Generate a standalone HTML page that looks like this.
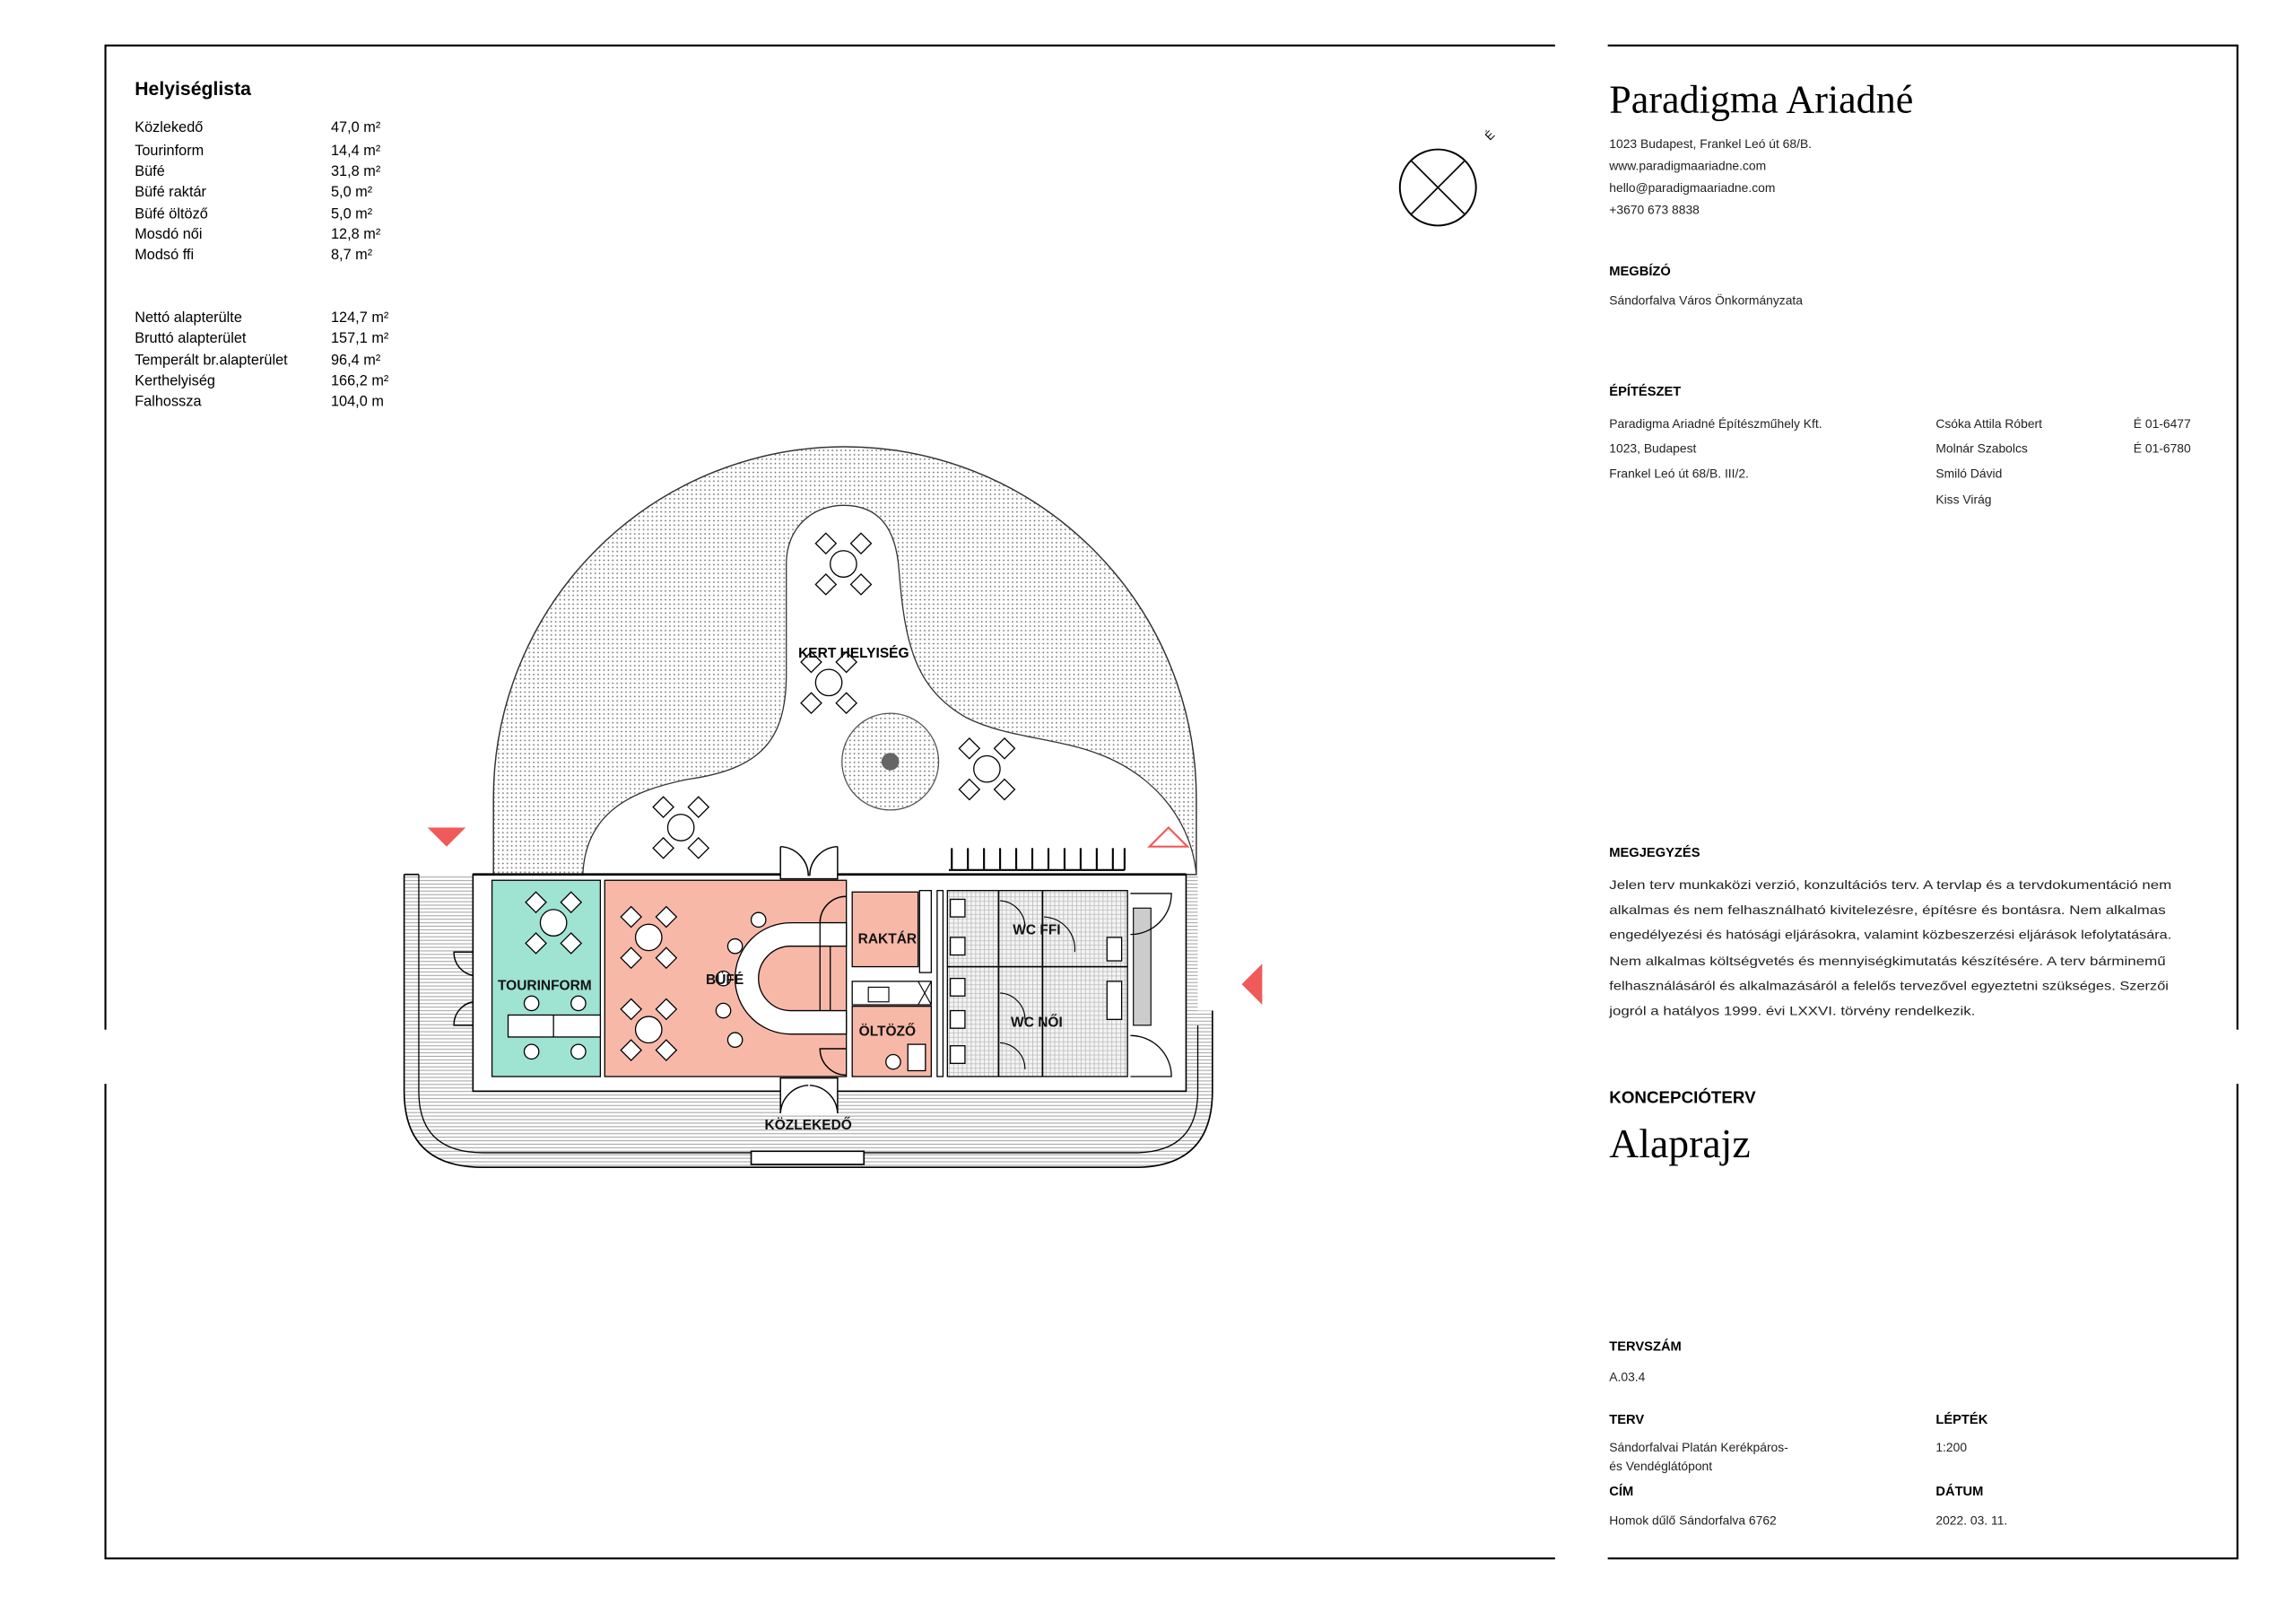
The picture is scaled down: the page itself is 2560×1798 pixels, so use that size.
<!DOCTYPE html>
<html><head><meta charset="utf-8"><style>html,body{margin:0;padding:0;background:#fff}svg{display:block}</style></head>
<body>
<svg width="2560" height="1798" viewBox="0 0 1568 1101.25" xmlns="http://www.w3.org/2000/svg" font-family="'Liberation Sans Narrow','Liberation Sans',sans-serif">
<defs>
<pattern id="dots" width="3" height="3" patternUnits="userSpaceOnUse"><circle cx="1.5" cy="1.5" r="0.55" fill="#666"/></pattern>
<pattern id="hatch" width="3" height="2.4" patternUnits="userSpaceOnUse"><line x1="0" y1="1.2" x2="3" y2="1.2" stroke="#aaa" stroke-width="0.7"/></pattern>
<pattern id="grid" width="3" height="3" patternUnits="userSpaceOnUse"><rect width="3" height="3" fill="#f4f4f4"/><path d="M0 0.3H3M0.3 0V3" stroke="#bbb" stroke-width="0.5"/></pattern>
<g id="tbl"><circle r="9" fill="#fff" stroke="#000" stroke-width="0.8"/>
<g fill="#fff" stroke="#000" stroke-width="0.8"><polygon points="-12,-21 -5,-14 -12,-7 -19,-14"/><polygon points="12,-21 19,-14 12,-7 5,-14"/><polygon points="-12,7 -5,14 -12,21 -19,14"/><polygon points="12,7 19,14 12,21 5,14"/></g></g>
</defs>
<g stroke="#000" stroke-width="1.3" fill="none">
<path d="M72,703 V31 H1062"/><path d="M72,740 V1064 H1062"/>
<path d="M1098,31 H1528 V703"/><path d="M1528,740 V1064 H1098"/>
</g>
<text x="92" y="65" font-size="13" font-weight="bold" font-family="'Liberation Sans',sans-serif">Helyiséglista</text>
<g font-size="10">
<text x="92" y="90">Közlekedő</text><text x="226" y="90">47,0 m²</text>
<text x="92" y="106">Tourinform</text><text x="226" y="106">14,4 m²</text>
<text x="92" y="120">Büfé</text><text x="226" y="120">31,8 m²</text>
<text x="92" y="134">Büfé raktár</text><text x="226" y="134">5,0 m²</text>
<text x="92" y="149">Büfé öltöző</text><text x="226" y="149">5,0 m²</text>
<text x="92" y="163">Mosdó női</text><text x="226" y="163">12,8 m²</text>
<text x="92" y="177">Modsó ffi</text><text x="226" y="177">8,7 m²</text>
<text x="92" y="220">Nettó alapterülte</text><text x="226" y="220">124,7 m²</text>
<text x="92" y="234">Bruttó alapterület</text><text x="226" y="234">157,1 m²</text>
<text x="92" y="249">Temperált br.alapterület</text><text x="226" y="249">96,4 m²</text>
<text x="92" y="263">Kerthelyiség</text><text x="226" y="263">166,2 m²</text>
<text x="92" y="277">Falhossza</text><text x="226" y="277">104,0 m</text>
</g>
<circle cx="982" cy="128" r="26" fill="#fff" stroke="#000" stroke-width="1.2"/>
<path d="M964,110 L1000,146 M1000,110 L964,146" stroke="#000" stroke-width="1"/>
<text x="1014" y="96" font-size="8" transform="rotate(-45 1016 92)">É</text>
<path d="M337,597 L337,545 A240,240 0 0 1 817,545 L817,597 Z" fill="url(#dots)" stroke="#333" stroke-width="0.9"/>
<path d="M398,597 C400,555 430,540 470,532 C520,525 537,505 537,460 L537,385 C537,360 555,345 576,345 C600,345 612,360 614,390 C618,440 625,470 660,490 C700,510 750,500 790,540 C805,555 815,575 817,597 Z" fill="#fff" stroke="#333" stroke-width="0.8"/>
<circle cx="608" cy="520" r="33" fill="url(#dots)" stroke="#555" stroke-width="0.8"/>
<circle cx="608" cy="520" r="6" fill="#666"/>
<use href="#tbl" x="576" y="385"/><use href="#tbl" x="566" y="466"/><use href="#tbl" x="674" y="525"/><use href="#tbl" x="465" y="565"/>
<text x="583" y="449" font-size="9.5" font-weight="bold" text-anchor="middle">KERT HELYISÉG</text>
<g stroke="#000" stroke-width="1.3"><path d="M648,594 H768"/><path d="M650,579V594M661,579V594M672,579V594M683,579V594M694,579V594M705,579V594M716,579V594M727,579V594M738,579V594M749,579V594M760,579V594M768,579V594"/></g>
<polygon points="292,565 318,565 305,578" fill="#f05a5a"/>
<polygon points="785,578 811,578 798,565" fill="#fff" stroke="#f05a5a" stroke-width="1.3"/>
<polygon points="862,658 862,686 848,672" fill="#f05a5a"/>
<path d="M276,597 L276,745 Q276,797 330,797 L775,797 Q828,797 828,745 L828,690 L818,690 L818,597 Z" fill="url(#hatch)" stroke="none"/>
<path d="M276,597 L276,745 Q276,797 330,797 L775,797 Q828,797 828,745 L828,690" fill="none" stroke="#000" stroke-width="1"/>
<path d="M286,597 L286,745 Q286,787 330,787 L775,787 Q818,787 818,745 L818,700" fill="none" stroke="#000" stroke-width="0.8"/>
<path d="M276,597 H286" stroke="#000"/>
<rect x="513" y="786" width="77" height="9" fill="#fff" stroke="#000" stroke-width="1"/>
<rect x="323" y="597" width="487" height="148" fill="#fff" stroke="#000" stroke-width="1"/>
<path d="M323,597 H810" stroke="#000" stroke-width="1.6"/>
<rect x="336" y="601" width="74" height="134" fill="#9fe3d2" stroke="#000" stroke-width="0.8"/>
<rect x="413" y="601" width="165" height="134" fill="#f7b8a8" stroke="#000" stroke-width="0.8"/>
<rect x="582" y="609" width="45" height="51" fill="#f7b8a8" stroke="#000" stroke-width="0.8"/>
<rect x="582" y="687" width="54" height="48" fill="#f7b8a8" stroke="#000" stroke-width="0.8"/>
<rect x="582" y="670" width="54" height="16" fill="#fff" stroke="#000" stroke-width="0.8"/>
<path d="M627,670 L636,686 M636,670 L627,686" stroke="#000" stroke-width="0.7"/>
<rect x="593" y="674" width="14" height="10" fill="#fff" stroke="#000" stroke-width="0.7"/>
<rect x="628" y="608" width="8" height="56" fill="#fff" stroke="#000" stroke-width="0.8"/>
<rect x="640" y="608" width="4" height="127" fill="#fff" stroke="#000" stroke-width="0.8"/>
<rect x="647" y="608" width="123" height="127" fill="url(#grid)" stroke="#000" stroke-width="0.8"/>
<path d="M682,608 V735 M712,608 V735 M647,660 H770" stroke="#000" stroke-width="1"/>
<g fill="#fff" stroke="#000" stroke-width="0.8"><rect x="649" y="614" width="10" height="12"/><rect x="649" y="640" width="10" height="12"/><rect x="649" y="668" width="10" height="12"/><rect x="649" y="690" width="10" height="12"/><rect x="649" y="714" width="10" height="12"/><rect x="756" y="640" width="10" height="16"/><rect x="756" y="670" width="10" height="26"/></g>
<g fill="none" stroke="#000" stroke-width="0.7"><path d="M683,615 A18,18 0 0 1 700,632"/><path d="M683,678 A18,18 0 0 1 700,696"/><path d="M713,626 A22,22 0 0 1 734,650"/><path d="M683,712 A18,18 0 0 1 700,730"/></g>
<rect x="774" y="620" width="12" height="80" fill="#ccc" stroke="#000" stroke-width="0.7"/>
<g fill="none" stroke="#000" stroke-width="0.8"><path d="M772,610 H800 A28,28 0 0 1 772,638"/><path d="M772,735 H800 A28,28 0 0 0 772,707"/></g>
<g fill="#fff" stroke="#000" stroke-width="0.9"><path d="M533,578 V600 H572 V578"/><path d="M533,578 A20,20 0 0 1 552,598 M572,578 A20,20 0 0 0 553,598" fill="none"/>
<path d="M533,760 V736 H572 V760"/><path d="M533,760 A20,20 0 0 1 552,741 M572,760 A20,20 0 0 0 553,741" fill="none"/>
<path d="M323,650 H310 A16,16 0 0 0 323,666 M323,700 H310 A16,16 0 0 1 323,684" fill="none"/>
<path d="M578,612 A18,18 0 0 0 560,630 H578 M578,734 A18,18 0 0 1 560,716 H578" fill="none"/></g>
<use href="#tbl" x="378" y="630"/><use href="#tbl" x="443" y="640"/><use href="#tbl" x="443" y="703"/>
<g fill="#fff" stroke="#000" stroke-width="0.8">
<rect x="347" y="693" width="63" height="15"/><path d="M378,693 V708"/>
<circle cx="363" cy="685" r="5"/><circle cx="395" cy="685" r="5"/><circle cx="363" cy="718" r="5"/><circle cx="395" cy="718" r="5"/>
<path d="M578,630 L540,630 A38,38 0 0 0 540,706 L578,706 L578,690 L540,690 A22,22 0 0 1 540,646 L578,646 Z"/>
<path d="M560,630 V690 M567,646 V690"/>
<circle cx="518" cy="628" r="5"/><circle cx="502" cy="646" r="5"/><circle cx="494" cy="668" r="5"/><circle cx="494" cy="690" r="5"/><circle cx="502" cy="710" r="5"/>
<circle cx="610" cy="725" r="5"/><rect x="620" y="713" width="12" height="18"/>
</g>
<g font-size="9.5" font-weight="bold" text-anchor="middle" fill="#111">
<text x="372" y="676">TOURINFORM</text><text x="495" y="672">BÜFÉ</text><text x="606" y="644">RAKTÁR</text>
<text x="606" y="707">ÖLTÖZŐ</text><text x="708" y="638">WC FFI</text><text x="708" y="701">WC NŐI</text><text x="552" y="771">KÖZLEKEDŐ</text>
</g>
<text x="1099" y="77" font-size="27" font-family="'Liberation Serif',serif">Paradigma Ariadné</text>
<g font-size="8.5" fill="#222">
<text x="1099" y="101">1023 Budapest, Frankel Leó út 68/B.</text>
<text x="1099" y="116">www.paradigmaariadne.com</text>
<text x="1099" y="131">hello@paradigmaariadne.com</text>
<text x="1099" y="146">+3670 673 8838</text>
<text x="1099" y="208">Sándorfalva Város Önkormányzata</text>
<text x="1099" y="292">Paradigma Ariadné Építészműhely Kft.</text>
<text x="1099" y="309">1023, Budapest</text>
<text x="1099" y="326">Frankel Leó út 68/B. III/2.</text>
<text x="1322" y="292">Csóka Attila Róbert</text><text x="1457" y="292">É 01-6477</text>
<text x="1322" y="309">Molnár Szabolcs</text><text x="1457" y="309">É 01-6780</text>
<text x="1322" y="326">Smiló Dávid</text>
<text x="1322" y="344">Kiss Virág</text>
<text x="1099" y="607" textLength="384" lengthAdjust="spacingAndGlyphs">Jelen terv munkaközi verzió, konzultációs terv. A tervlap és a tervdokumentáció nem</text>
<text x="1099" y="624" textLength="380" lengthAdjust="spacingAndGlyphs">alkalmas és nem felhasználható kivitelezésre, építésre és bontásra. Nem alkalmas</text>
<text x="1099" y="641" textLength="384" lengthAdjust="spacingAndGlyphs">engedélyezési és hatósági eljárásokra, valamint közbeszerzési eljárások lefolytatására.</text>
<text x="1099" y="659" textLength="380" lengthAdjust="spacingAndGlyphs">Nem alkalmas költségvetés és mennyiségkimutatás készítésére. A terv bárminemű</text>
<text x="1099" y="676" textLength="382" lengthAdjust="spacingAndGlyphs">felhasználásáról és alkalmazásáról a felelős tervezővel egyeztetni szükséges. Szerzői</text>
<text x="1099" y="693" textLength="250" lengthAdjust="spacingAndGlyphs">jogról a hatályos 1999. évi LXXVI. törvény rendelkezik.</text>
<text x="1099" y="943">A.03.4</text>
<text x="1099" y="991">Sándorfalvai Platán Kerékpáros-</text>
<text x="1099" y="1004">és Vendéglátópont</text>
<text x="1322" y="991">1:200</text>
<text x="1099" y="1041">Homok dűlő Sándorfalva 6762</text>
<text x="1322" y="1041">2022. 03. 11.</text>
</g>
<g font-size="9" font-weight="bold">
<text x="1099" y="188">MEGBÍZÓ</text><text x="1099" y="270">ÉPÍTÉSZET</text><text x="1099" y="585">MEGJEGYZÉS</text>
<text x="1099" y="922">TERVSZÁM</text><text x="1099" y="972">TERV</text><text x="1322" y="972">LÉPTÉK</text>
<text x="1099" y="1021">CÍM</text><text x="1322" y="1021">DÁTUM</text>
</g>
<text x="1099" y="753" font-size="11.5" font-weight="bold">KONCEPCIÓTERV</text>
<text x="1099" y="790" font-size="28" font-family="'Liberation Serif',serif">Alaprajz</text>
</svg>
</body></html>
